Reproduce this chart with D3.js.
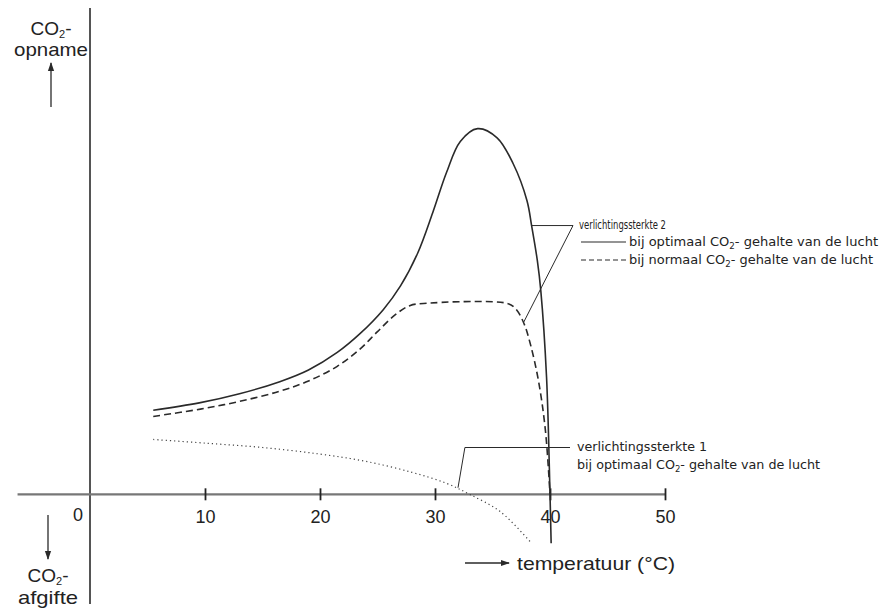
<!DOCTYPE html>
<html>
<head>
<meta charset="utf-8">
<script src="https://cdn.jsdelivr.net/npm/d3@7"></script>
<style>
  body { margin: 0; background: #fff; }
  svg { display: block; }
  text { font-family: "Liberation Sans", Arial, sans-serif; fill: #222; }
  .small { font-family: "Liberation Sans Narrow", "DejaVu Sans Condensed", "Liberation Sans", sans-serif; font-size: 12px; }
</style>
</head>
<body>
<svg id="chart" width="883" height="608"></svg>
<script>
// temperatures (°C) and relative CO2 exchange (arbitrary units, 0 = axis)
const tempOptimal = [5.5, 9.5, 13, 16.5, 19, 21.5, 23.5, 25.5, 27, 28.5, 29.8, 31, 32.2, 33.7, 35.4, 36.8, 38, 38.4, 38.9, 39.2, 39.7, 40, 40.1];
const valOptimal = [23, 25, 27.5, 30.8, 34, 38.8, 44, 50.5, 57, 66, 77, 88, 96.5, 100, 97.5, 90.4, 80.3, 73.5, 63.9, 55.7, 32, 0, -13.4];

const tempNormal = [5.5, 9.6, 13, 16.5, 19, 21.5, 23.5, 25, 26.5, 27.8, 29, 36.3, 37, 37.7, 38.3, 39, 39.6, 40];
const valNormal = [21.3, 23.3, 25.4, 28.2, 31, 35, 39.8, 44.5, 49, 51.6, 52.2, 52.2, 50.8, 47, 41, 31, 17.5, 0];

const tempLight1 = [5.5, 10, 15, 20, 24, 28, 31, 33, 35.7, 38.4];
const valLight1 = [15, 14, 12.8, 11, 9, 6, 3, 0, -4.8, -13.4];

const xTicks = [10, 20, 30, 40, 50];

const legend2Title = "verlichtingssterkte 2";
const legend2Items = ["bij optimaal CO", "bij normaal CO"];
const legend1Title = "verlichtingssterkte 1";

const INK = "#2a2a2a";
const AXIS = "#555";

const svg = d3.select("#chart");

const x = d3.scaleLinear().domain([0, 50]).range([90, 665]);
const y = d3.scaleLinear().domain([-30, 133]).range([604, 8]);

const defs = svg.append("defs");
defs.append("marker")
  .attr("id", "arrow")
  .attr("viewBox", "0 0 10 10")
  .attr("refX", 9)
  .attr("refY", 5)
  .attr("markerWidth", 7)
  .attr("markerHeight", 7)
  .attr("orient", "auto")
  .append("path")
  .attr("d", "M0,1.5 L10,5 L0,8.5 Z")
  .attr("fill", INK);

// axes
svg.append("line")
  .attr("x1", x(0)).attr("x2", x(0))
  .attr("y1", y(133)).attr("y2", y(-30))
  .attr("stroke", AXIS).attr("stroke-width", 2);

svg.append("line")
  .attr("x1", x(-6.3)).attr("x2", x(50))
  .attr("y1", y(0)).attr("y2", y(0))
  .attr("stroke", "#777").attr("stroke-width", 2.2);

const xAxis = svg.append("g")
  .attr("transform", `translate(0, ${y(0)})`)
  .call(d3.axisBottom(x).tickValues(xTicks).tickSize(6).tickSizeOuter(0));
xAxis.select(".domain").remove();
xAxis.selectAll(".tick line")
  .attr("y1", -6).attr("y2", 6)
  .attr("stroke", "#222").attr("stroke-width", 1.8);
xAxis.selectAll(".tick text")
  .attr("y", 16)
  .attr("font-size", 18)
  .attr("font-family", "Liberation Sans, Arial, sans-serif")
  .attr("fill", "#222");

svg.append("text")
  .attr("x", x(0) - 12).attr("y", y(0) + 27)
  .attr("text-anchor", "middle")
  .attr("font-size", 18)
  .text("0");

// curves
const line = d3.line()
  .x(d => x(d[0]))
  .y(d => y(d[1]))
  .curve(d3.curveCatmullRom.alpha(0.5));

svg.append("path")
  .attr("d", line(d3.zip(tempOptimal, valOptimal)))
  .attr("fill", "none").attr("stroke", INK).attr("stroke-width", 1.6);

svg.append("path")
  .attr("d", line(d3.zip(tempNormal, valNormal)))
  .attr("fill", "none").attr("stroke", INK).attr("stroke-width", 1.6)
  .attr("stroke-dasharray", "7,4");

svg.append("path")
  .attr("d", line(d3.zip(tempLight1, valLight1)))
  .attr("fill", "none").attr("stroke", "#444").attr("stroke-width", 1.2)
  .attr("stroke-dasharray", "1.2,3");

// y axis labels
const co2 = (g, cx, baseline) => {
  const t = g.append("text")
    .attr("x", cx).attr("y", baseline)
    .attr("text-anchor", "middle")
    .attr("font-size", 19);
  t.append("tspan").text("CO");
  t.append("tspan").attr("font-size", 11).attr("dy", 3).text("2");
  t.append("tspan").attr("dy", -3).text("-");
};

co2(svg, 51, 35);
svg.append("text")
  .attr("x", 51).attr("y", 56)
  .attr("text-anchor", "middle").attr("font-size", 19)
  .attr("textLength", 74).attr("lengthAdjust", "spacingAndGlyphs")
  .text("opname");
svg.append("line")
  .attr("x1", 51).attr("x2", 51).attr("y1", 107).attr("y2", 63)
  .attr("stroke", INK).attr("stroke-width", 1.3)
  .attr("marker-end", "url(#arrow)");

svg.append("line")
  .attr("x1", 48).attr("x2", 48).attr("y1", 515).attr("y2", 559)
  .attr("stroke", INK).attr("stroke-width", 1.3)
  .attr("marker-end", "url(#arrow)");
co2(svg, 48, 582);
svg.append("text")
  .attr("x", 48).attr("y", 604)
  .attr("text-anchor", "middle").attr("font-size", 19)
  .attr("textLength", 60).attr("lengthAdjust", "spacingAndGlyphs")
  .text("afgifte");

// x axis label
svg.append("line")
  .attr("x1", 465).attr("x2", 509).attr("y1", 563).attr("y2", 563)
  .attr("stroke", INK).attr("stroke-width", 1.3)
  .attr("marker-end", "url(#arrow)");
svg.append("text")
  .attr("x", 517).attr("y", 570)
  .attr("font-size", 19)
  .attr("textLength", 158).attr("lengthAdjust", "spacingAndGlyphs")
  .text("temperatuur (°C)");

// legend 2 with leader lines
const leader = d3.line().x(d => d[0]).y(d => d[1]);
svg.append("path")
  .attr("d", leader([[x(38.4), y(73.5)], [573, y(73.5)], [x(37.7), y(47)]]))
  .attr("fill", "none").attr("stroke", INK).attr("stroke-width", 1);

svg.append("text").attr("class", "small")
  .attr("x", 579).attr("y", 229)
  .attr("font-size", 11)
  .attr("textLength", 87).attr("lengthAdjust", "spacingAndGlyphs")
  .text(legend2Title);

const legendItem = (ty, label, width, dash) => {
  svg.append("line")
    .attr("x1", 581).attr("x2", 626).attr("y1", ty).attr("y2", ty)
    .attr("stroke", INK).attr("stroke-width", 1.1)
    .attr("stroke-dasharray", dash);
  const t = svg.append("text").attr("class", "small")
    .attr("x", 629).attr("y", ty + 4);
  t.append("tspan").text(label);
  t.append("tspan").attr("font-size", 8).attr("dy", 3).text("2");
  t.append("tspan").attr("dy", -3).text("- gehalte van de lucht");
  t.attr("textLength", width).attr("lengthAdjust", "spacingAndGlyphs");
};
legendItem(242, legend2Items[0], 249, null);
legendItem(260, legend2Items[1], 244, "5,3");

// legend 1 with leader line
svg.append("path")
  .attr("d", leader([[x(32), y(1.8)], [x(32.6), y(12.8)], [570, y(12.8)]]))
  .attr("fill", "none").attr("stroke", INK).attr("stroke-width", 1);

svg.append("text").attr("class", "small")
  .attr("x", 577).attr("y", 451)
  .attr("textLength", 130).attr("lengthAdjust", "spacingAndGlyphs")
  .text(legend1Title);

const t1 = svg.append("text").attr("class", "small")
  .attr("x", 577).attr("y", 469);
t1.append("tspan").text("bij optimaal CO");
t1.append("tspan").attr("font-size", 8).attr("dy", 3).text("2");
t1.append("tspan").attr("dy", -3).text("- gehalte van de lucht");
t1.attr("textLength", 243).attr("lengthAdjust", "spacingAndGlyphs");
</script>
</body>
</html>
